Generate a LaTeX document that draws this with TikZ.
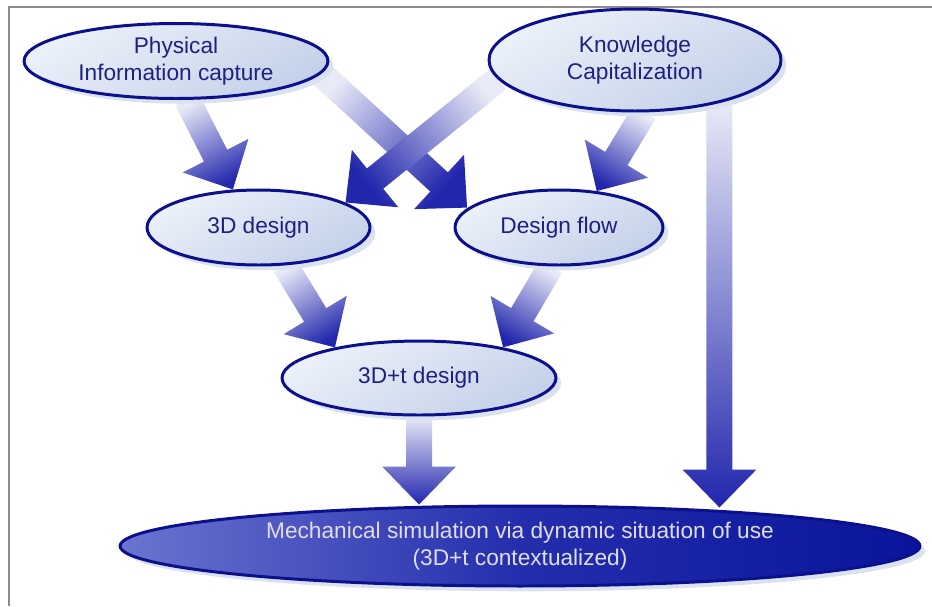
\documentclass[tikz,border=0pt]{standalone}
\usepackage{fontspec}
\setmainfont{Liberation Sans}
\usepackage{xcolor}
\usetikzlibrary{shapes.geometric,shadows,calc}
\definecolor{navy}{RGB}{12,16,140}
\definecolor{inktext}{RGB}{30,32,130}
\definecolor{bubblelight}{RGB}{236,241,249}
\definecolor{bubbledark}{RGB}{196,209,233}
\definecolor{shadowc}{RGB}{218,226,240}
\definecolor{arrowtail}{RGB}{232,234,247}
\definecolor{arrowtip}{RGB}{34,38,172}
\definecolor{simleft}{RGB}{108,116,208}
\definecolor{simmid}{RGB}{36,46,172}
\definecolor{simright}{RGB}{10,20,155}
\definecolor{framegray}{RGB}{140,140,140}
\pgfdeclarelayer{back}
\pgfsetlayers{back,main}

% fat shaded arrow from #1 to #2
\newcommand{\blockarrow}[2]{%
  \path let \p1=($(#2)-(#1)$) in \pgfextra{%
    \pgfmathsetmacro\baang{atan2(\y1,\x1)}%
    \pgfmathsetmacro\bashade{\baang+90}%
    \pgfmathsetlengthmacro\balen{veclen(\x1,\y1)}%
    \pgfmathsetlengthmacro\babase{veclen(\x1,\y1)-21.6pt}%
    \global\let\baang\baang \global\let\bashade\bashade
    \global\let\balen\balen \global\let\babase\babase};
  \begin{scope}[shift={(#1)},rotate=\baang]
    \shade[flowarrow,shading angle=\bashade]
      (0pt,-7.4pt) -- (\babase,-7.4pt) -- (\babase,-21pt) -- (\balen,0pt)
      -- (\babase,21pt) -- (\babase,7.4pt) -- (0pt,7.4pt) -- cycle;
  \end{scope}}

\begin{document}
\begin{tikzpicture}[
  x=0.02cm,y=-0.02cm,
  font=\fontsize{12.9}{15.4}\selectfont,
  bubble/.style={ellipse, draw=navy, line width=1.7pt, inner sep=0pt,
    top color=bubblelight, bottom color=bubbledark, shading angle=30,
    drop shadow={shadow xshift=3pt, shadow yshift=-3pt, fill=shadowc, opacity=1},
    text=inktext, align=center},
  simbubble/.style={bubble, left color=simleft, right color=simright,
    middle color=simmid, text={rgb,255:red,222;green,222;blue,234}},
  flowarrow/.style={top color=arrowtail, bottom color=arrowtip}
]
\useasboundingbox (0,0) rectangle (932,606);
\draw[framegray, line width=1.1pt] (932,7) -- (9,7) -- (9,606);

\node[bubble, minimum width=6.08cm, minimum height=1.5cm] (phys) at (176,61) {Physical\\Information capture};
\node[bubble, minimum width=5.84cm, minimum height=2.04cm] (know) at (635,60) {Knowledge\\Capitalization};
\node[bubble, minimum width=4.46cm, minimum height=1.5cm] (d3) at (258.5,227.5) {3D design};
\node[bubble, minimum width=4.16cm, minimum height=1.5cm] (flow) at (559,227.5) {Design flow};
\node[bubble, minimum width=5.48cm, minimum height=1.48cm] (d3t) at (419,378) {3D+t design};
\node[simbubble, minimum width=16cm, minimum height=1.6cm] (mech) at (520,546)
  {Mechanical simulation via dynamic situation of use\\(3D+t contextualized)};

\coordinate (dtip) at (d3t.south |- mech.north);
\coordinate (ktip) at ($(know.-27.6 |- mech.north)+(0,3)$);

\begin{pgfonlayer}{back}
\blockarrow{phys.-74}{d3.124}
\blockarrow{phys.-5}{flow.168}
\blockarrow{know.188}{d3.16}
\blockarrow{know.-80}{flow.44}
\blockarrow{d3.-55}{d3t.160}
\blockarrow{flow.-102}{d3t.20}
\blockarrow{d3t.south}{dtip}
\blockarrow{know.-27.6}{ktip}
\end{pgfonlayer}
\end{tikzpicture}
\end{document}
